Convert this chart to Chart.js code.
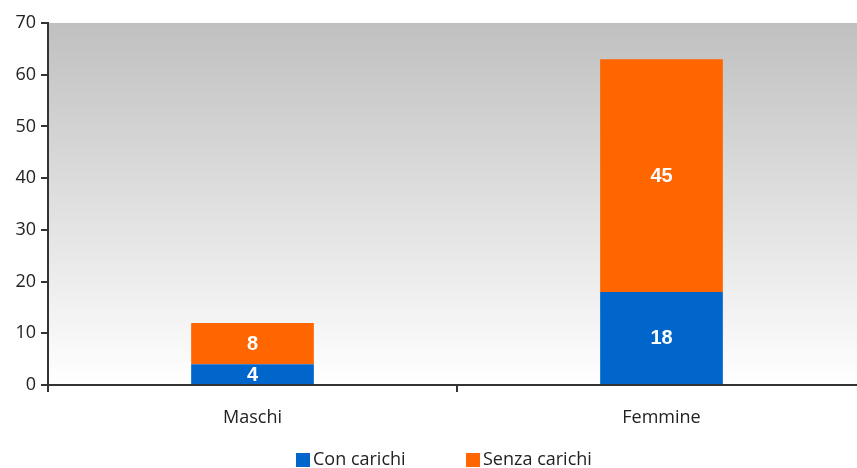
<!DOCTYPE html>
<html><head><meta charset="utf-8">
<script src="https://cdn.jsdelivr.net/npm/chart.js@4"></script>
<style>html,body{margin:0;padding:0;overflow:hidden;background:#fff}#wrap{width:870px;height:468px}</style>
</head><body><div id="wrap"><canvas id="c"></canvas></div>
<script>
const categories = ["Maschi", "Femmine"];
const conCarichi = [4, 18];
const senzaCarichi = [8, 45];
const seriesNames = ["Con carichi", "Senza carichi"];
const yTicks = [0, 10, 20, 30, 40, 50, 60, 70];

const FONT = '"Open Sans", sans-serif';
const bgPlugin = {
  id: 'bg',
  beforeDraw(chart) {
    const {ctx, chartArea: a} = chart;
    const g = ctx.createLinearGradient(0, a.top, 0, a.bottom);
    g.addColorStop(0, '#c0c0c0');
    g.addColorStop(1, '#ffffff');
    ctx.save(); ctx.fillStyle = g; ctx.fillRect(a.left, a.top, a.right - a.left, a.bottom - a.top); ctx.restore();
  }
};
const labelPlugin = {
  id: 'lbl',
  afterDatasetsDraw(chart) {
    const ctx = chart.ctx;
    ctx.save();
    ctx.fillStyle = '#fff';
    ctx.font = 'bold 20px "Liberation Sans", Arial, sans-serif';
    ctx.textAlign = 'center'; ctx.textBaseline = 'middle';
    chart.data.datasets.forEach((ds, i) => {
      chart.getDatasetMeta(i).data.forEach((el, j) => {
        const y = (el.y + el.base) / 2;
        ctx.fillText(String(ds.data[j]), el.x, y + 1);
      });
    });
    ctx.restore();
  }
};
const legendPlugin = {
  id: 'customLegend',
  afterDraw(chart) {
    const ctx = chart.ctx;
    const starts = [296, 466];
    const cy = 460;
    ctx.save();
    ctx.font = '18px ' + FONT;
    ctx.textBaseline = 'middle'; ctx.textAlign = 'left';
    chart.data.datasets.forEach((ds, i) => {
      const x = starts[i];
      ctx.fillStyle = ds.backgroundColor;
      ctx.fillRect(x, cy - 7, 14, 14);
      ctx.fillStyle = '#222';
      ctx.fillText(ds.label, x + 17, cy);
    });
    ctx.restore();
  }
};
new Chart(document.getElementById('c'), {
  type: 'bar',
  data: {
    labels: categories,
    datasets: [
      {label: seriesNames[0], data: conCarichi, backgroundColor: '#0066cc'},
      {label: seriesNames[1], data: senzaCarichi, backgroundColor: '#ff6600'}
    ]
  },
  options: {
    responsive: true, maintainAspectRatio: false, animation: false,
    layout: {padding: {top: 23, right: 4, left: 4, bottom: 33}},
    plugins: {
      legend: {display: false},
      tooltip: {enabled: false}
    },
    scales: {
      x: {stacked: true,
        afterFit(s) { s.height = 50; },
        grid: {drawOnChartArea: false, tickLength: 7, color: '#333', lineWidth: 2},
        border: {color: '#333', width: 2},
        ticks: {color: '#222', padding: 15, font: {size: 18, family: FONT}}},
      y: {stacked: true, min: 0, max: 70,
        afterFit(s) { s.width = 44; },
        afterBuildTicks(s) { s.ticks = yTicks.map(v => ({value: v})); },
        grid: {drawOnChartArea: false, tickLength: 7, color: '#333', lineWidth: 2},
        border: {color: '#333', width: 2},
        ticks: {color: '#222', padding: 5, font: {size: 18, family: FONT}}}
    },
    datasets: {bar: {categoryPercentage: 1, barPercentage: 0.3}}
  },
  plugins: [bgPlugin, labelPlugin, legendPlugin]
});
</script></body></html>
